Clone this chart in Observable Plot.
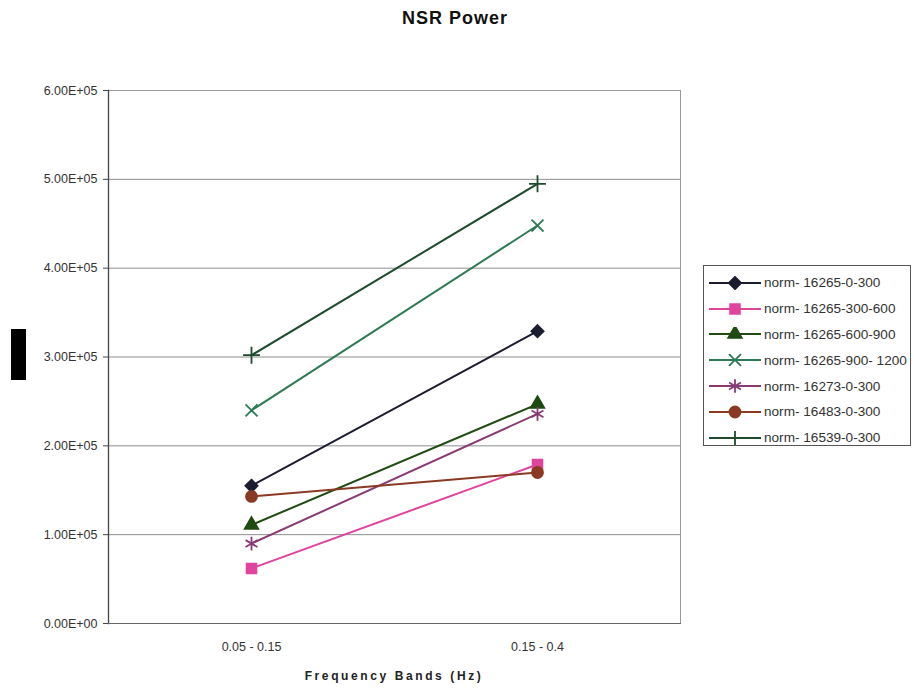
<!DOCTYPE html>
<html>
<head>
<meta charset="utf-8">
<script src="https://cdn.jsdelivr.net/npm/d3@7"></script>
<script src="https://cdn.jsdelivr.net/npm/@observablehq/plot@0.6"></script>
<style>
  body { margin: 0; background: #fff; }
  #wrap { position: relative; width: 914px; height: 689px; font-family: "Liberation Sans", Arial, sans-serif; overflow: hidden; }
  #title { position: absolute; top: 8px; left: 0; width: 910px; text-align: center; font-weight: bold; font-size: 18px; letter-spacing: 1px; color: #111; }
  #xlabel { position: absolute; top: 669px; left: 108px; width: 572px; text-align: center; font-weight: bold; font-size: 12px; letter-spacing: 2.6px; color: #222; }
  #ybox { position: absolute; left: 11px; top: 329px; width: 15px; height: 51px; background: #000; }
  #legend { position: absolute; left: 703px; top: 265px; width: 208px; height: 181px; border: 1px solid #555; box-sizing: border-box; background: #fff; padding-top: 4px; }
  .row { display: flex; align-items: center; height: 25.8px; }
  .row svg { margin-left: 5px; margin-right: 3px; }
  .row span { font-size: 13.6px; color: #333; white-space: pre; }
  #chart { position: absolute; left: 0; top: 0; }
</style>
</head>
<body>
<div id="wrap">
  <div id="chart"></div>
  <div id="title">NSR Power</div>
  <div id="xlabel">Frequency Bands (Hz)</div>
  <div id="ybox"></div>
  <div id="legend"></div>
</div>
<script>
// Frequency bands on the x axis
const bands = ["0.05 - 0.15", "0.15 - 0.4"];

// Recordings (series)
const seriesNames = [
  "norm- 16265-0-300",
  "norm- 16265-300-600",
  "norm- 16265-600-900",
  "norm- 16265-900- 1200",
  "norm- 16273-0-300",
  "norm- 16483-0-300",
  "norm- 16539-0-300"
];

// Power in each band, one value per series
const lowBandPower  = [155000,  62000, 111000, 240000,  90000, 143000, 302000];
const highBandPower = [329000, 179000, 247000, 448000, 236000, 170000, 495000];

// Y axis ticks
const yTicks = [0, 100000, 200000, 300000, 400000, 500000, 600000];

// Styling per series
const seriesColors  = ["#1c1c30", "#e0449c", "#1f4a12", "#2e7a55", "#8a3a72", "#8a3a22", "#1f4a2e"];
const seriesSymbols = ["diamond2", "square", "triangle", "times", "asterisk", "circle", "plus"];
const seriesRadius  = [5.5, 5.5, 5, 5.5, 6.5, 5.5, 5.5];
const d3Symbols = {
  diamond2: d3.symbolDiamond2, square: d3.symbolSquare, triangle: d3.symbolTriangle,
  times: d3.symbolTimes, asterisk: d3.symbolAsterisk, circle: d3.symbolCircle, plus: d3.symbolPlus
};

const rows = seriesNames.flatMap((s, i) => [
  {series: s, idx: i, band: bands[0], value: lowBandPower[i]},
  {series: s, idx: i, band: bands[1], value: highBandPower[i]}
]);

const sci = d => {
  const [m, e] = d.toExponential(2).split("e");
  const sign = e[0];
  const digits = e.slice(1).padStart(2, "0");
  return `${m}E${sign}${digits}`;
};

// One dot mark per series so each marker keeps its own size
const dotMarks = seriesNames.map((s, i) =>
  Plot.dot(rows.filter(d => d.idx === i), {
    x: "band", y: "value", symbol: "series", stroke: "series", fill: "series",
    r: seriesRadius[i], strokeWidth: 1.8
  })
);

const chart = Plot.plot({
  width: 914,
  height: 689,
  marginLeft: 108,
  marginRight: 234,
  marginTop: 90,
  marginBottom: 66,
  style: {fontFamily: "Liberation Sans, Arial, sans-serif", fontSize: "12.5px", color: "#333", background: "transparent"},
  x: {type: "point", domain: bands, padding: 0.5, label: null},
  y: {domain: [0, 600000], label: null},
  color: {domain: seriesNames, range: seriesColors},
  symbol: {domain: seriesNames, range: seriesSymbols},
  marks: [
    Plot.gridY(yTicks, {stroke: "#8c8c8c", strokeOpacity: 1}),
    Plot.frame({stroke: "#9a9a9a"}),
    Plot.frame({anchor: "left", stroke: "#444", strokeWidth: 1.3}),
    Plot.frame({anchor: "bottom", stroke: "#666"}),
    Plot.axisY({ticks: yTicks, tickFormat: sci, tickSize: 5, tickPadding: 6, stroke: "#444"}),
    Plot.axisX({tickSize: 0, tickPadding: 19}),
    Plot.line(rows, {x: "band", y: "value", z: "series", stroke: "series", strokeWidth: 2}),
    ...dotMarks
  ]
});
document.getElementById("chart").append(chart);

// Legend: a line with the series marker for each series
const legend = d3.select("#legend");
seriesNames.forEach((s, i) => {
  const row = legend.append("div").attr("class", "row");
  const svg = row.append("svg").attr("width", 52).attr("height", 14);
  svg.append("line").attr("x1", 0).attr("x2", 52).attr("y1", 7).attr("y2", 7)
    .attr("stroke", seriesColors[i]).attr("stroke-width", 2);
  svg.append("path")
    .attr("transform", "translate(26,7)")
    .attr("d", d3.symbol(d3Symbols[seriesSymbols[i]], Math.PI * seriesRadius[i] * seriesRadius[i])())
    .attr("fill", seriesColors[i]).attr("stroke", seriesColors[i]).attr("stroke-width", 1.8);
  row.append("span").text(s);
});
</script>
</body>
</html>
